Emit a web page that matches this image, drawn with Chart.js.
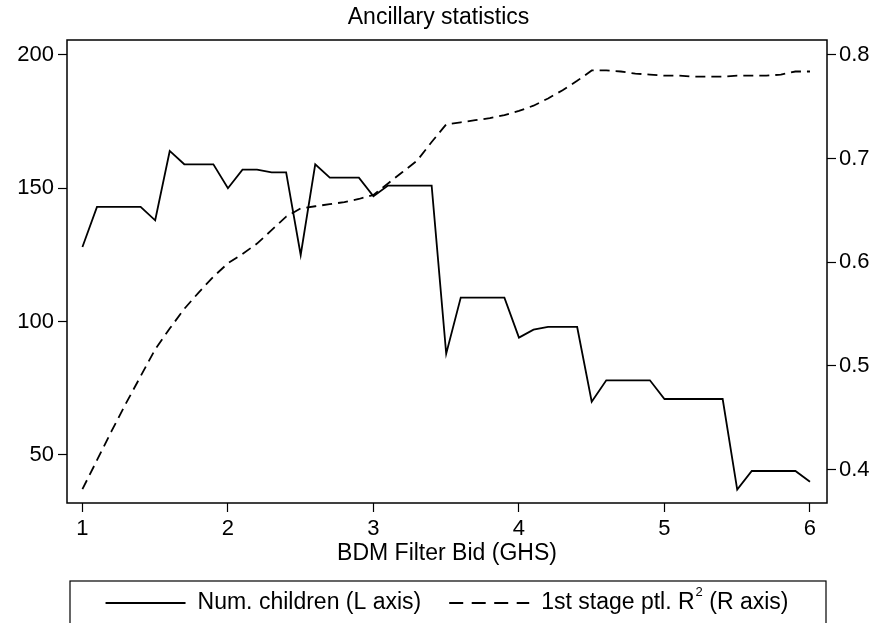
<!DOCTYPE html>
<html lang="en">
<head>
  <meta charset="UTF-8">
  <title>Ancillary statistics</title>
  <script src="https://cdn.jsdelivr.net/npm/chart.js"></script>
  <style>
    html, body {
      margin: 0;
      padding: 0;
      background: #ffffff;
    }
    .chart-container {
      width: 877px;
      height: 623px;
      position: relative;
    }
  </style>
</head>
<body>
  <div class="chart-container">
    <canvas id="ancChart" width="877" height="623"></canvas>
  </div>

  <script>
    // Data
    const bids = [
      1.0, 1.1, 1.2, 1.3, 1.4, 1.5, 1.6, 1.7, 1.8, 1.9,
      2.0, 2.1, 2.2, 2.3, 2.4, 2.5, 2.6, 2.7, 2.8, 2.9,
      3.0, 3.1, 3.2, 3.3, 3.4, 3.5, 3.6, 3.7, 3.8, 3.9,
      4.0, 4.1, 4.2, 4.3, 4.4, 4.5, 4.6, 4.7, 4.8, 4.9,
      5.0, 5.1, 5.2, 5.3, 5.4, 5.5, 5.6, 5.7, 5.8, 5.9,
      6.0
    ];
    const numChildren = [
      128, 143, 143, 143, 143, 138, 164, 159, 159, 159,
      150, 157, 157, 156, 156, 125, 159, 154, 154, 154,
      147, 151, 151, 151, 151, 88, 109, 109, 109, 109,
      94, 97, 98, 98, 98, 70, 78, 78, 78, 78,
      71, 71, 71, 71, 71, 37, 44, 44, 44, 44,
      40
    ];
    const partialR2 = [
      0.381, 0.409, 0.437, 0.464, 0.490, 0.516, 0.536, 0.555, 0.571, 0.586,
      0.599, 0.608, 0.618, 0.631, 0.644, 0.652, 0.654, 0.656, 0.658, 0.661,
      0.665, 0.676, 0.687, 0.698, 0.716, 0.733, 0.735, 0.737, 0.739, 0.742,
      0.746, 0.751, 0.758, 0.766, 0.775, 0.785, 0.785, 0.784, 0.782, 0.781,
      0.780, 0.780, 0.779, 0.779, 0.779, 0.780, 0.780, 0.780, 0.781, 0.784,
      0.784
    ];
    const xTicks = [1, 2, 3, 4, 5, 6];
    const leftTicks = [50, 100, 150, 200];
    const rightTicks = [0.4, 0.5, 0.6, 0.7, 0.8];
    const chartTitle = "Ancillary statistics";
    const xTitle = "BDM Filter Bid (GHS)";
    const legendItems = [
      { text: "Num. children (L axis)", dashed: false },
      { text: "1st stage ptl. R", sup: "2", after: " (R axis)", dashed: true }
    ];

    const FONT = "'Liberation Sans', Arial, Helvetica, sans-serif";
    const TEXT_SIZE = 23;
    const TICK_SIZE = 22;

    // box around the plot region
    const framePlugin = {
      id: "frame",
      afterDatasetsDraw(chart) {
        const { ctx, chartArea: a } = chart;
        ctx.save();
        ctx.strokeStyle = "#000";
        ctx.lineWidth = 1.5;
        ctx.strokeRect(a.left, a.top, a.right - a.left, a.bottom - a.top);
        ctx.restore();
      }
    };

    // Stata style legend in a box below the axis title
    const boxLegendPlugin = {
      id: "boxLegend",
      afterDraw(chart) {
        const { ctx, chartArea: a } = chart;
        const boxTop = 581;
        const rowY = 603;
        const sampleLen = 80;
        const gapText = 12;
        const gapItem = 28;
        const mainFont = TEXT_SIZE + "px " + FONT;
        const supFont = "13px " + FONT;
        ctx.save();
        ctx.strokeStyle = "#000";
        ctx.lineWidth = 1.2;
        ctx.strokeRect(a.left + 3, boxTop, a.right - a.left - 4, 80);

        ctx.font = mainFont;
        const widths = legendItems.map(it => {
          let w = ctx.measureText(it.text).width;
          if (it.sup) {
            ctx.font = supFont;
            w += ctx.measureText(it.sup).width + 1;
            ctx.font = mainFont;
            w += ctx.measureText(it.after).width;
          }
          return w;
        });
        const total = widths.reduce((s, w) => s + sampleLen + gapText + w, 0) + gapItem * (legendItems.length - 1);
        let x = (a.left + a.right) / 2 - total / 2;

        legendItems.forEach((it, i) => {
          ctx.beginPath();
          ctx.lineWidth = 1.8;
          ctx.setLineDash(it.dashed ? [14, 8.5] : []);
          ctx.moveTo(x, rowY);
          ctx.lineTo(x + sampleLen, rowY);
          ctx.stroke();
          ctx.setLineDash([]);
          x += sampleLen + gapText;

          ctx.fillStyle = "#000";
          ctx.textBaseline = "middle";
          ctx.textAlign = "left";
          ctx.font = mainFont;
          ctx.fillText(it.text, x, rowY);
          let tx = x + ctx.measureText(it.text).width;
          if (it.sup) {
            ctx.font = supFont;
            ctx.fillText(it.sup, tx + 1, rowY - 11);
            tx += ctx.measureText(it.sup).width + 1;
            ctx.font = mainFont;
            ctx.fillText(it.after, tx, rowY);
          }
          x += widths[i] + gapItem;
        });
        ctx.restore();
      }
    };

    const fixTicks = (values) => (scale) => {
      scale.ticks = values.map(v => ({ value: v }));
    };

    const tickGrid = {
      display: true,
      drawOnChartArea: false,
      drawTicks: true,
      tickLength: 9,
      tickColor: "#000",
      tickWidth: 1.2
    };

    const ctx = document.getElementById("ancChart").getContext("2d");
    const chart = new Chart(ctx, {
      type: "line",
      data: {
        datasets: [
          {
            label: "Num. children (L axis)",
            data: bids.map((b, i) => ({ x: b, y: numChildren[i] })),
            borderColor: "#000",
            borderWidth: 1.8,
            pointRadius: 0,
            fill: false,
            tension: 0,
            yAxisID: "yL"
          },
          {
            label: "1st stage ptl. R² (R axis)",
            data: bids.map((b, i) => ({ x: b, y: partialR2[i] })),
            borderColor: "#000",
            borderWidth: 1.8,
            borderDash: [10, 6],
            pointRadius: 0,
            fill: false,
            tension: 0,
            yAxisID: "yR"
          }
        ]
      },
      options: {
        responsive: false,
        animation: false,
        devicePixelRatio: 1,
        layout: { padding: { top: 0, left: 0, right: 0, bottom: 53 } },
        plugins: {
          legend: { display: false },
          tooltip: { enabled: false },
          title: {
            display: true,
            text: chartTitle,
            color: "#000",
            font: { family: FONT, size: TEXT_SIZE, weight: "normal", lineHeight: 1.2 },
            padding: { top: 4.2, bottom: 8.2 }
          }
        },
        scales: {
          x: {
            type: "linear",
            min: 0.894,
            max: 6.117,
            afterBuildTicks: fixTicks(xTicks),
            afterFit: (s) => { s.height = 67; },
            grid: tickGrid,
            border: { display: false },
            ticks: {
              color: "#000",
              padding: 4,
              maxRotation: 0,
              font: { family: FONT, size: TICK_SIZE },
              callback: (v) => String(v)
            },
            title: {
              display: true,
              text: xTitle,
              color: "#000",
              font: { family: FONT, size: TEXT_SIZE, lineHeight: 1.2 },
              padding: { top: 0, bottom: 3 }
            }
          },
          yL: {
            type: "linear",
            position: "left",
            min: 32.0,
            max: 205.6,
            afterBuildTicks: fixTicks(leftTicks),
            afterFit: (s) => { s.width = 67; },
            grid: tickGrid,
            border: { display: false },
            ticks: {
              color: "#000",
              padding: 4,
              font: { family: FONT, size: TICK_SIZE },
              callback: (v) => String(v)
            }
          },
          yR: {
            type: "linear",
            position: "right",
            min: 0.3677,
            max: 0.8144,
            afterBuildTicks: fixTicks(rightTicks),
            afterFit: (s) => { s.width = 50; },
            grid: tickGrid,
            border: { display: false },
            ticks: {
              color: "#000",
              padding: 3,
              font: { family: FONT, size: TICK_SIZE },
              callback: (v) => v.toFixed(1)
            }
          }
        }
      },
      plugins: [framePlugin, boxLegendPlugin]
    });
  </script>
</body>
</html>
